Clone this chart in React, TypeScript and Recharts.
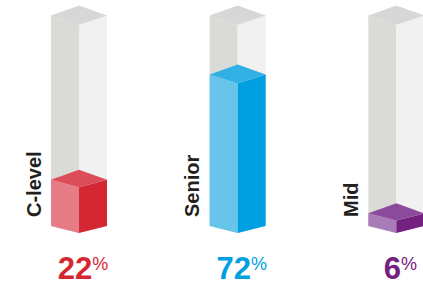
import { Bar, BarChart, LabelList, XAxis, YAxis } from "recharts";

const categories = ["C-level", "Senior", "Mid"];
const values = [22, 72, 6];

const palette = [
  { left: "#e57c86", right: "#d52731", top: "#dc4d59" },
  { left: "#67c4eb", right: "#009fdf", top: "#31b0e6" },
  { left: "#a97bb8", right: "#742080", top: "#8b4a9c" },
];
const gray = { left: "#dadad7", right: "#f1f1f1", top: "#d6d7d7" };

const rows = categories.map((name, i) => ({ name, value: values[i] }));

const FONT = "'Liberation Sans', Arial, Helvetica, sans-serif";
const BOTTOM = 233;

// side corners sit a bit higher than the front edge, more so the higher up we are
const depth = (yy: number) => 7 + (BOTTOM - yy) * 0.012;
const APEX = 10;

function pts(list: number[][]) {
  return list.map((p) => p.join(",")).join(" ");
}

function Column({ x, y, width, height, colors }: any) {
  const top = y;
  const bottom = y + height;
  const cx = x + width / 2;
  const dt = depth(top);
  const db = depth(bottom);
  return (
    <g>
      <polygon
        points={pts([[x, top - dt], [cx, top], [cx, bottom], [x, bottom - db]])}
        fill={colors.left}
      />
      <polygon
        points={pts([[cx, top], [x + width, top - dt], [x + width, bottom - db], [cx, bottom]])}
        fill={colors.right}
      />
      <polygon
        points={pts([[x, top - dt], [cx, top - dt - APEX], [x + width, top - dt], [cx, top]])}
        fill={colors.top}
      />
    </g>
  );
}

function CategoryLabel(props: any) {
  const { x, width, value } = props;
  const cx = x + width / 2;
  const tx = cx - 38.5;
  const ty = 217;
  return (
    <text
      x={tx}
      y={ty}
      transform={`rotate(-90 ${tx} ${ty})`}
      fill="#231f20"
      fontFamily={FONT}
      fontWeight="bold"
      fontSize={20}
      textAnchor="start"
    >
      {value}
    </text>
  );
}

function PercentLabel(props: any) {
  const { x, width, value, index } = props;
  const cx = x + width / 2;
  return (
    <text
      x={cx + 4}
      y={279}
      fill={palette[index].right}
      fontFamily={FONT}
      textAnchor="middle"
    >
      <tspan fontSize={31} fontWeight="bold">
        {value}
      </tspan>
      <tspan fontSize={18} dy={-9}>
        %
      </tspan>
    </text>
  );
}

export default function App() {
  return (
    <div
      style={{
        position: "absolute",
        left: 0,
        top: 0,
        width: 423,
        height: 282,
        overflow: "hidden",
        background: "#fff",
      }}
    >
      <BarChart
        width={476}
        height={282}
        data={rows}
        margin={{ top: 25, right: 0, bottom: 49, left: 0 }}
        barSize={56}
      >
        <XAxis dataKey="name" hide />
        <YAxis domain={[0, 100]} hide />
        <Bar
          dataKey="value"
          isAnimationActive={false}
          background={(p: any) => <Column key={`bg-${p.index}`} {...p} colors={gray} />}
          shape={(p: any) => <Column {...p} colors={palette[p.index]} />}
        >
          <LabelList dataKey="name" content={CategoryLabel} />
          <LabelList dataKey="value" content={PercentLabel} />
        </Bar>
      </BarChart>
    </div>
  );
}
